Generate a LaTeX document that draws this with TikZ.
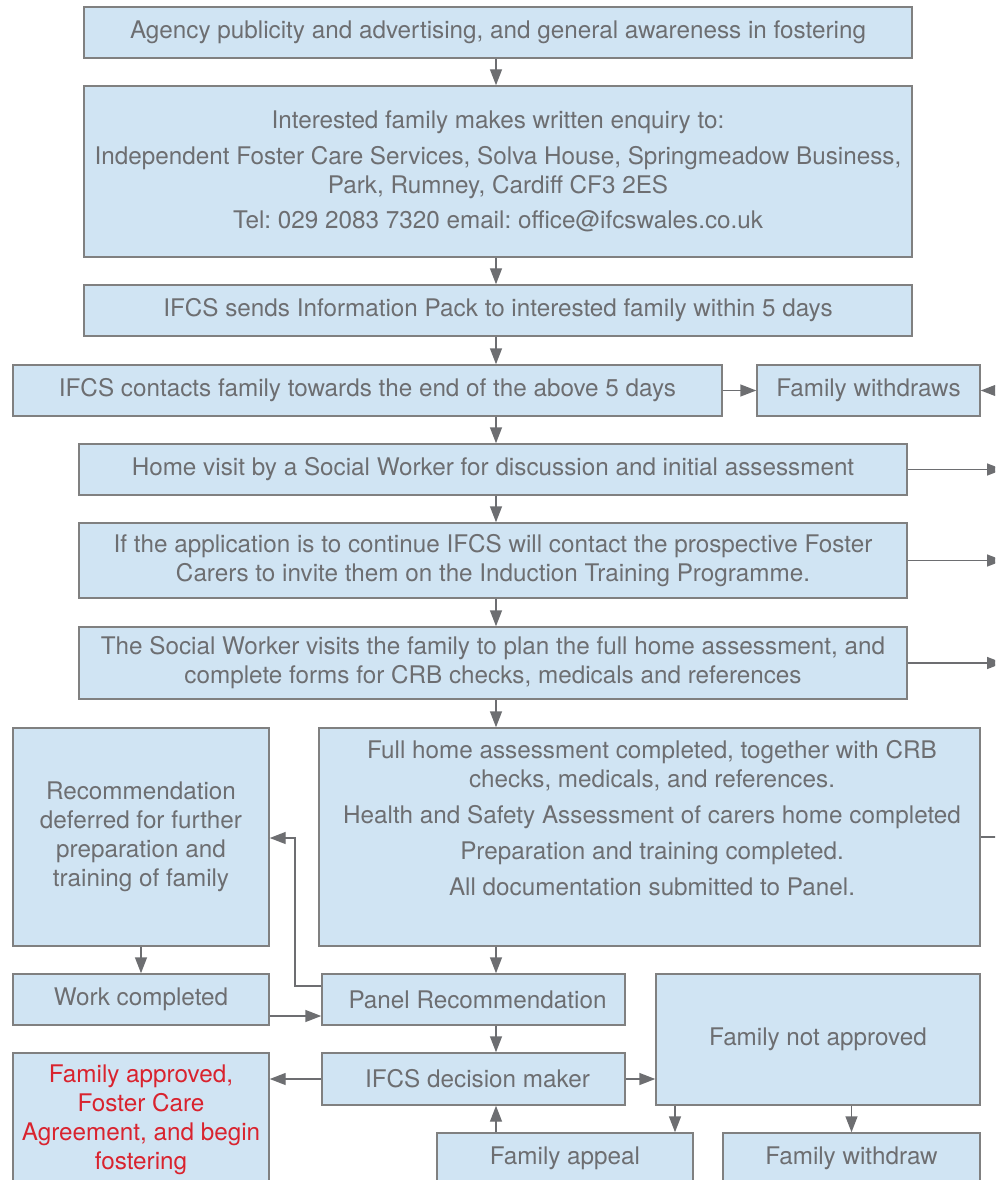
\documentclass[tikz,border=0pt]{standalone}
\usepackage{fontspec}
\setmainfont{TeX Gyre Heros}
\frenchspacing
\usetikzlibrary{arrows.meta}
\definecolor{boxfill}{HTML}{D0E4F3}
\definecolor{boxline}{HTML}{808080}
\definecolor{txt}{HTML}{6D6E71}
\definecolor{redtxt}{HTML}{D9232E}
\definecolor{conn}{HTML}{6D6E71}
\tikzset{
  box/.style={draw=boxline, fill=boxfill, line width=1.1pt, inner sep=0pt, text=txt, align=center,
    font=\fontsize{18.2}{21.75}\selectfont\frenchspacing},
  rect/.style n args={4}{minimum width={(#3-#1)*0.75pt}, minimum height={(#4-#2)*0.75pt},
    at={({(#1+#3)/2},{(#2+#4)/2})}},
  plaintext/.style={inner sep=0pt, text=txt, align=center, font=\fontsize{18.2}{21.75}\selectfont\frenchspacing},
  arr/.style={draw=conn, line width=1.1pt, -{Triangle[length=12pt,width=9pt]}},
  ln/.style={draw=conn, line width=1.1pt}
}
\begin{document}
\begin{tikzpicture}[x=0.75pt,y=-0.75pt]
\useasboundingbox (0,0) rectangle (995,1180);
\clip (0,0) rectangle (995,1180);
% boxes
\node[box, rect={84}{7}{912}{58}] (A) {Agency publicity and advertising, and general awareness in fostering};
\node[box, rect={84}{86}{912}{257}] (B) {Interested family makes written enquiry to:\\[4.9pt]
Independent Foster Care Services, Solva House, Springmeadow Business,\\
Park, Rumney, Cardiff CF3 2ES\\[4.9pt]
Tel: 029 2083 7320 email: office@ifcswales.co.uk};
\node[box, rect={84}{285}{912}{336}] (C) {IFCS sends Information Pack to interested family within 5 days};
\node[box, rect={13}{365}{722}{416}] (D) {IFCS contacts family towards the end of the above 5 days};
\node[box, rect={757}{365}{980}{416}] (E) {Family withdraws};
\node[box, rect={79}{444}{907}{495}] (F) {Home visit by a Social Worker for discussion and initial assessment};
\node[box, rect={79}{523}{907}{598}] (G) {If the application is to continue IFCS will contact the prospective Foster\\
Carers to invite them on the Induction Training Programme.};
\node[box, rect={79}{627}{907}{699}] (H) {The Social Worker visits the family to plan the full home assessment, and\\
complete forms for CRB checks, medicals and references};
\node[box, rect={13}{728}{269}{946}] (I) {Recommendation\\ deferred for further\\ preparation and\\ training of family};
\node[box, rect={319}{728}{980}{946}] (J) {};
\node[plaintext] (Jt) at (652,818) {Full home assessment completed, together with CRB\\
checks, medicals, and references.\\[5.2pt]
Health and Safety Assessment of carers home completed\\[5.2pt]
Preparation and training completed.\\[5.2pt]
All documentation submitted to Panel.};
\node[box, rect={13}{974}{269}{1025}] (K) {Work completed};
\node[box, rect={322}{974}{625}{1025}] (L) {\hspace{6pt}Panel Recommendation};
\node[box, rect={656}{974}{980}{1105}] (M) {Family not approved};
\node[box, rect={13}{1053}{269}{1186}, text=redtxt] (N) {Family approved,\\ Foster Care\\ Agreement, and begin\\ fostering};
\node[box, rect={322}{1053}{625}{1105}] (O) {\hspace{6pt}IFCS decision maker};
\node[box, rect={437}{1133}{693}{1184}] (P) {Family appeal};
\node[box, rect={723}{1133}{980}{1184}] (Q) {Family withdraw};
% helper coordinates
\coordinate (col) at (496,0);
\coordinate (ein) at (1012,390.5);
\coordinate (fout) at (1003,469.5);
\coordinate (gout) at (1003,560.5);
\coordinate (hout) at (1003,663);
\coordinate (jout) at (1000,837);
\coordinate (bend1) at (295,986);
\coordinate (bend2) at (295,838);
\coordinate (r2) at (0,1016);
\coordinate (c675) at (675,0);
% connectors
\draw[arr] (A.south -| col) -- (B.north -| col);
\draw[arr] (B.south -| col) -- (C.north -| col);
\draw[arr] (C.south -| col) -- (D.north -| col);
\draw[arr] (D.south -| col) -- (F.north -| col);
\draw[arr] (F.south -| col) -- (G.north -| col);
\draw[arr] (G.south -| col) -- (H.north -| col);
\draw[arr] (H.south -| col) -- (J.north -| col);
\draw[arr] (D.east) -- (E.west);
\draw[arr] (ein) -- (E.east);
\draw[arr] (F.east) -- (fout);
\draw[arr] (G.east) -- (gout);
\draw[arr] (H.east) -- (hout);
\draw[ln] (J.east |- jout) -- (jout);
\draw[arr] (I.south) -- (K.north);
\draw[arr] (J.south -| col) -- (L.north -| col);
\draw[arr] (bend1 -| L.west) -- (bend1) -- (bend2) -- (bend2 -| I.east);
\draw[arr] (K.east |- r2) -- (L.west |- r2);
\draw[arr] (L.south -| col) -- (O.north -| col);
\draw[arr] (O.west) -- (N.east |- O.west);
\draw[arr] (O.east) -- (M.west |- O.east);
\draw[arr] (P.north -| col) -- (O.south -| col);
\draw[arr] (M.south -| c675) -- (P.north -| c675);
\draw[arr] (M.south -| Q.north) -- (Q.north);
\end{tikzpicture}
\end{document}
